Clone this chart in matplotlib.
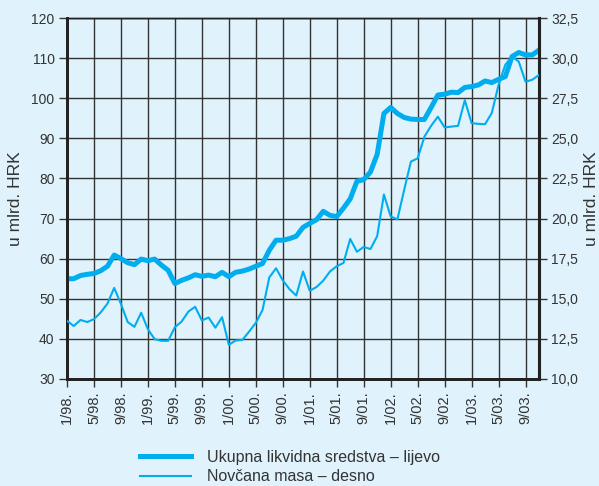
import matplotlib.pyplot as plt
from matplotlib.lines import Line2D
import numpy as np

plt.rcParams['font.family'] = ['Liberation Sans', 'DejaVu Sans']

# monthly, 1/98 .. 11/03
ukupna = [55.0, 55.0, 55.8, 56.1, 56.3, 57.0, 58.1, 60.9, 60.0, 59.0,
          58.5, 59.9, 59.5, 59.9, 58.4, 57.1, 53.8, 54.6, 55.2, 56.0,
          55.6, 55.9, 55.5, 56.6, 55.5, 56.6, 56.9, 57.4, 58.1, 58.8,
          62.1, 64.6, 64.6, 65.0, 65.6, 67.8, 68.8, 69.7, 71.8, 70.8,
          70.5, 72.6, 74.9, 79.3, 79.7, 81.6, 86.0, 96.2, 97.7, 96.2,
          95.2, 94.8, 94.7, 94.7, 97.7, 100.8, 101.0, 101.5, 101.4, 102.7,
          102.9, 103.3, 104.3, 103.9, 104.7, 105.4, 110.4, 111.4, 110.8, 110.8,
          112.0]

novcana = [13.63, 13.30, 13.68, 13.55, 13.73, 14.15, 14.70, 15.68, 14.68, 13.55,
           13.25, 14.13, 13.10, 12.48, 12.38, 12.38, 13.23, 13.58, 14.20, 14.50,
           13.65, 13.83, 13.20, 13.85, 12.13, 12.40, 12.43, 12.95, 13.50, 14.30,
           16.33, 16.90, 16.15, 15.60, 15.20, 16.70, 15.50, 15.73, 16.13, 16.70,
           17.03, 17.23, 18.73, 17.93, 18.23, 18.10, 18.90, 21.50, 20.13, 19.95,
           21.78, 23.55, 23.75, 25.10, 25.78, 26.35, 25.68, 25.73, 25.78, 27.38,
           25.95, 25.90, 25.88, 26.58, 28.33, 29.58, 30.10, 29.78, 28.53, 28.65,
           28.95]

tick_labels = ['1/98.', '5/98.', '9/98.', '1/99.', '5/99.', '9/99.', '1/00.',
               '5/00.', '9/00.', '1/01.', '5/01.', '9/01.', '1/02.', '5/02.',
               '9/02.', '1/03.', '5/03.', '9/03.']

bg = '#e0f2fc'
blue = '#00aeef'
grid_c = '#333333'
txt = '#333333'

x = np.arange(len(ukupna))

fig = plt.figure(figsize=(5.99, 4.86), dpi=100, facecolor=bg)
ax = fig.add_axes([67/599, 1 - 379/486, (539 - 67)/599, (379 - 18)/486])
ax.set_facecolor(bg)

ax.plot(x, ukupna, color=blue, lw=3.6, zorder=3)
ax.set_xlim(0, 70)
ax.set_ylim(30, 120)
ax.set_yticks(np.arange(30, 121, 10))
ax.set_xticks(np.arange(0, 69, 4))
ax.set_xticklabels(tick_labels, rotation=90)
ax.grid(True, color=grid_c, lw=1.0)
ax.set_axisbelow(True)

ax2 = ax.twinx()
ax2.plot(x, novcana, color=blue, lw=1.5, zorder=3)
ax2.set_ylim(10, 32.5)
yt = np.arange(10, 32.6, 2.5)
ax2.set_yticks(yt)
ax2.set_yticklabels([f'{v:.1f}'.replace('.', ',') for v in yt])

for a in (ax, ax2):
    a.tick_params(colors=grid_c, labelcolor=txt, labelsize=10, length=6,
                  width=1.0, direction='out', pad=3)
    a.spines['left'].set_linewidth(2.0)
    a.spines['bottom'].set_linewidth(2.0)
    a.spines['right'].set_linewidth(2.2)
    a.spines['top'].set_linewidth(1.0)
    for s in a.spines.values():
        s.set_color('#222222')
ax.tick_params(axis='x', labelsize=10.5, pad=3)

fig.text(16/599, 1 - 199/486, 'u mlrd. HRK', rotation=90, ha='center',
         va='center', fontsize=12.5, color=txt)
fig.text(591/599, 1 - 199/486, 'u mlrd. HRK', rotation=90, ha='center',
         va='center', fontsize=12.5, color=txt)

handles = [Line2D([], [], color=blue, lw=3.6), Line2D([], [], color=blue, lw=1.5)]
fig.legend(handles, ['Ukupna likvidna sredstva – lijevo', 'Novčana masa – desno'],
           loc='center left', bbox_to_anchor=(140/599, 1 - 467/486),
           frameon=False, fontsize=11.5, handlelength=3.2, handletextpad=1.0,
           labelspacing=0.3, borderpad=0, borderaxespad=0, labelcolor=txt)

fig.savefig('out.png', dpi=100, facecolor=bg)
